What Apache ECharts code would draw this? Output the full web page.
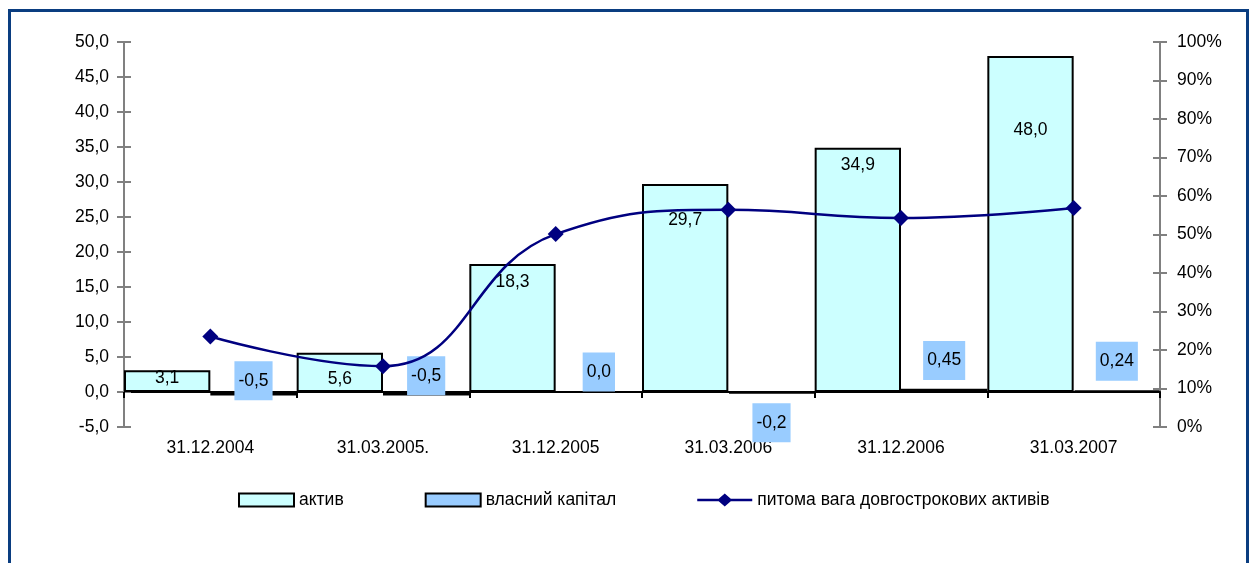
<!DOCTYPE html>
<html>
<head>
<meta charset="utf-8">
<script src="https://cdn.jsdelivr.net/npm/echarts@6/dist/echarts.min.js"></script>
<style>
html,body{margin:0;padding:0;background:#fff;}
#wrap{position:relative;width:1250px;height:563px;overflow:hidden;}
#chart{position:absolute;left:0;top:0;width:1250px;height:563px;}
#frame{position:absolute;left:8px;top:9px;width:1235px;height:600px;border:3px solid #0a3d80;pointer-events:none;}
</style>
</head>
<body>
<div id="wrap"><div id="chart"></div><div id="frame"></div></div>
<script>
const categories = ['31.12.2004', '31.03.2005.', '31.12.2005', '31.03.2006', '31.12.2006', '31.03.2007'];
const assets = [3.1, 5.6, 18.3, 29.7, 34.9, 48.0];
const equity = [-0.5, -0.5, 0.0, -0.2, 0.45, 0.24];
const longTermShare = [23.5, 15.8, 50.1, 56.4, 54.3, 56.9];
const leftTicks = {min: -5, max: 50, interval: 5};
const rightTicks = {min: 0, max: 100, interval: 10};
const seriesNames = ['актив', 'власний капітал', 'питома вага довгострокових активів'];

// label nudges (pixels), presentation only
const assetLabelOffsets = [-3, 7, -46, -68, -105, -94];
const equityLabelOffsets = [-13, -18, -20, 30, -30, -30];

const FONT = 'Liberation Sans, Arial, sans-serif';
const FS = 17.5;
const fmt1 = v => v.toFixed(1).replace('.', ',');
const fmtEq = v => (Math.abs(v * 10 - Math.round(v * 10)) < 1e-9 ? v.toFixed(1) : v.toFixed(2)).replace('.', ',');
const lineLegendIcon = 'path://M0,5.25 L21.44,5.25 L27.5,0 L33.56,5.25 L55,5.25 L55,7.75 L33.56,7.75 L27.5,13 L21.44,7.75 L0,7.75 Z';

const chart = echarts.init(document.getElementById('chart'), null, {renderer: 'canvas'});

const grid = {left: 124, right: 90, top: 42, bottom: 136, containLabel: false};

const baseY = (pos, ticks, fmt, withLabels, inside) => ({
  type: 'value', position: pos, min: ticks.min, max: ticks.max, interval: ticks.interval,
  splitLine: {show: false},
  axisLine: {show: withLabels, lineStyle: {color: '#808080', width: 2}},
  axisTick: {show: true, inside: inside, length: 7, lineStyle: {color: '#808080', width: 2}},
  axisLabel: {show: withLabels, formatter: fmt, color: '#000', fontFamily: FONT, fontSize: FS, margin: pos === 'left' ? 15 : 17}
});

const option = {
  animation: false,
  grid: grid,
  xAxis: [{
    type: 'category', data: categories, position: 'bottom',
    axisLine: {onZero: true, onZeroAxisIndex: 0, lineStyle: {color: '#000', width: 2}},
    axisTick: {show: true, alignWithLabel: false, length: 6, lineStyle: {color: '#000', width: 2}},
    axisLabel: {color: '#000', fontFamily: FONT, fontSize: FS, margin: 12},
    splitLine: {show: false}
  }],
  yAxis: [
    baseY('left', leftTicks, fmt1, true, false),
    baseY('right', rightTicks, v => v + '%', true, false),
    baseY('left', leftTicks, fmt1, false, true),
    baseY('right', rightTicks, v => v + '%', false, true)
  ],
  legend: {
    left: 233, top: 486, itemWidth: 55, itemHeight: 13, itemGap: 81,
    textStyle: {color: '#000', fontFamily: FONT, fontSize: FS},
    data: [
      {name: seriesNames[0], icon: 'rect', itemStyle: {color: '#ccffff', borderColor: '#000', borderWidth: 2}},
      {name: seriesNames[1], icon: 'rect', itemStyle: {color: '#99ccff', borderColor: '#000', borderWidth: 2}},
      {name: seriesNames[2], icon: lineLegendIcon, itemStyle: {color: '#000080', borderWidth: 0}}
    ]
  },
  series: [
    {
      name: seriesNames[0], type: 'bar', yAxisIndex: 0,
      barGap: '0%', barCategoryGap: '0%',
      itemStyle: {color: '#ccffff', borderColor: '#000', borderWidth: 2},
      data: assets.map((v, i) => ({
        value: v,
        label: {show: true, position: 'inside', offset: [0, assetLabelOffsets[i]], formatter: p => fmt1(p.value),
          color: '#000', fontFamily: FONT, fontSize: FS}
      })),
      z: 2
    },
    {
      name: seriesNames[1], type: 'bar', yAxisIndex: 0,
      barGap: '0%', barCategoryGap: '0%',
      itemStyle: {color: '#99ccff', borderColor: '#000', borderWidth: 2},
      data: equity.map((v, i) => ({
        value: v,
        label: {show: true, position: 'inside', offset: [0, equityLabelOffsets[i]], formatter: p => fmtEq(p.value),
          color: '#000', fontFamily: FONT, fontSize: FS, backgroundColor: '#99ccff', padding: [11, 4, 10, 4]}
      })),
      z: 2
    },
    {
      name: seriesNames[2], type: 'line', yAxisIndex: 1, smooth: 0.45, smoothConstraint: false,
      symbol: 'diamond', symbolSize: 16,
      lineStyle: {color: '#000080', width: 2.5},
      itemStyle: {color: '#000080'},
      data: longTermShare,
      z: 5
    }
  ]
};
chart.setOption(option);
</script>
</body>
</html>
